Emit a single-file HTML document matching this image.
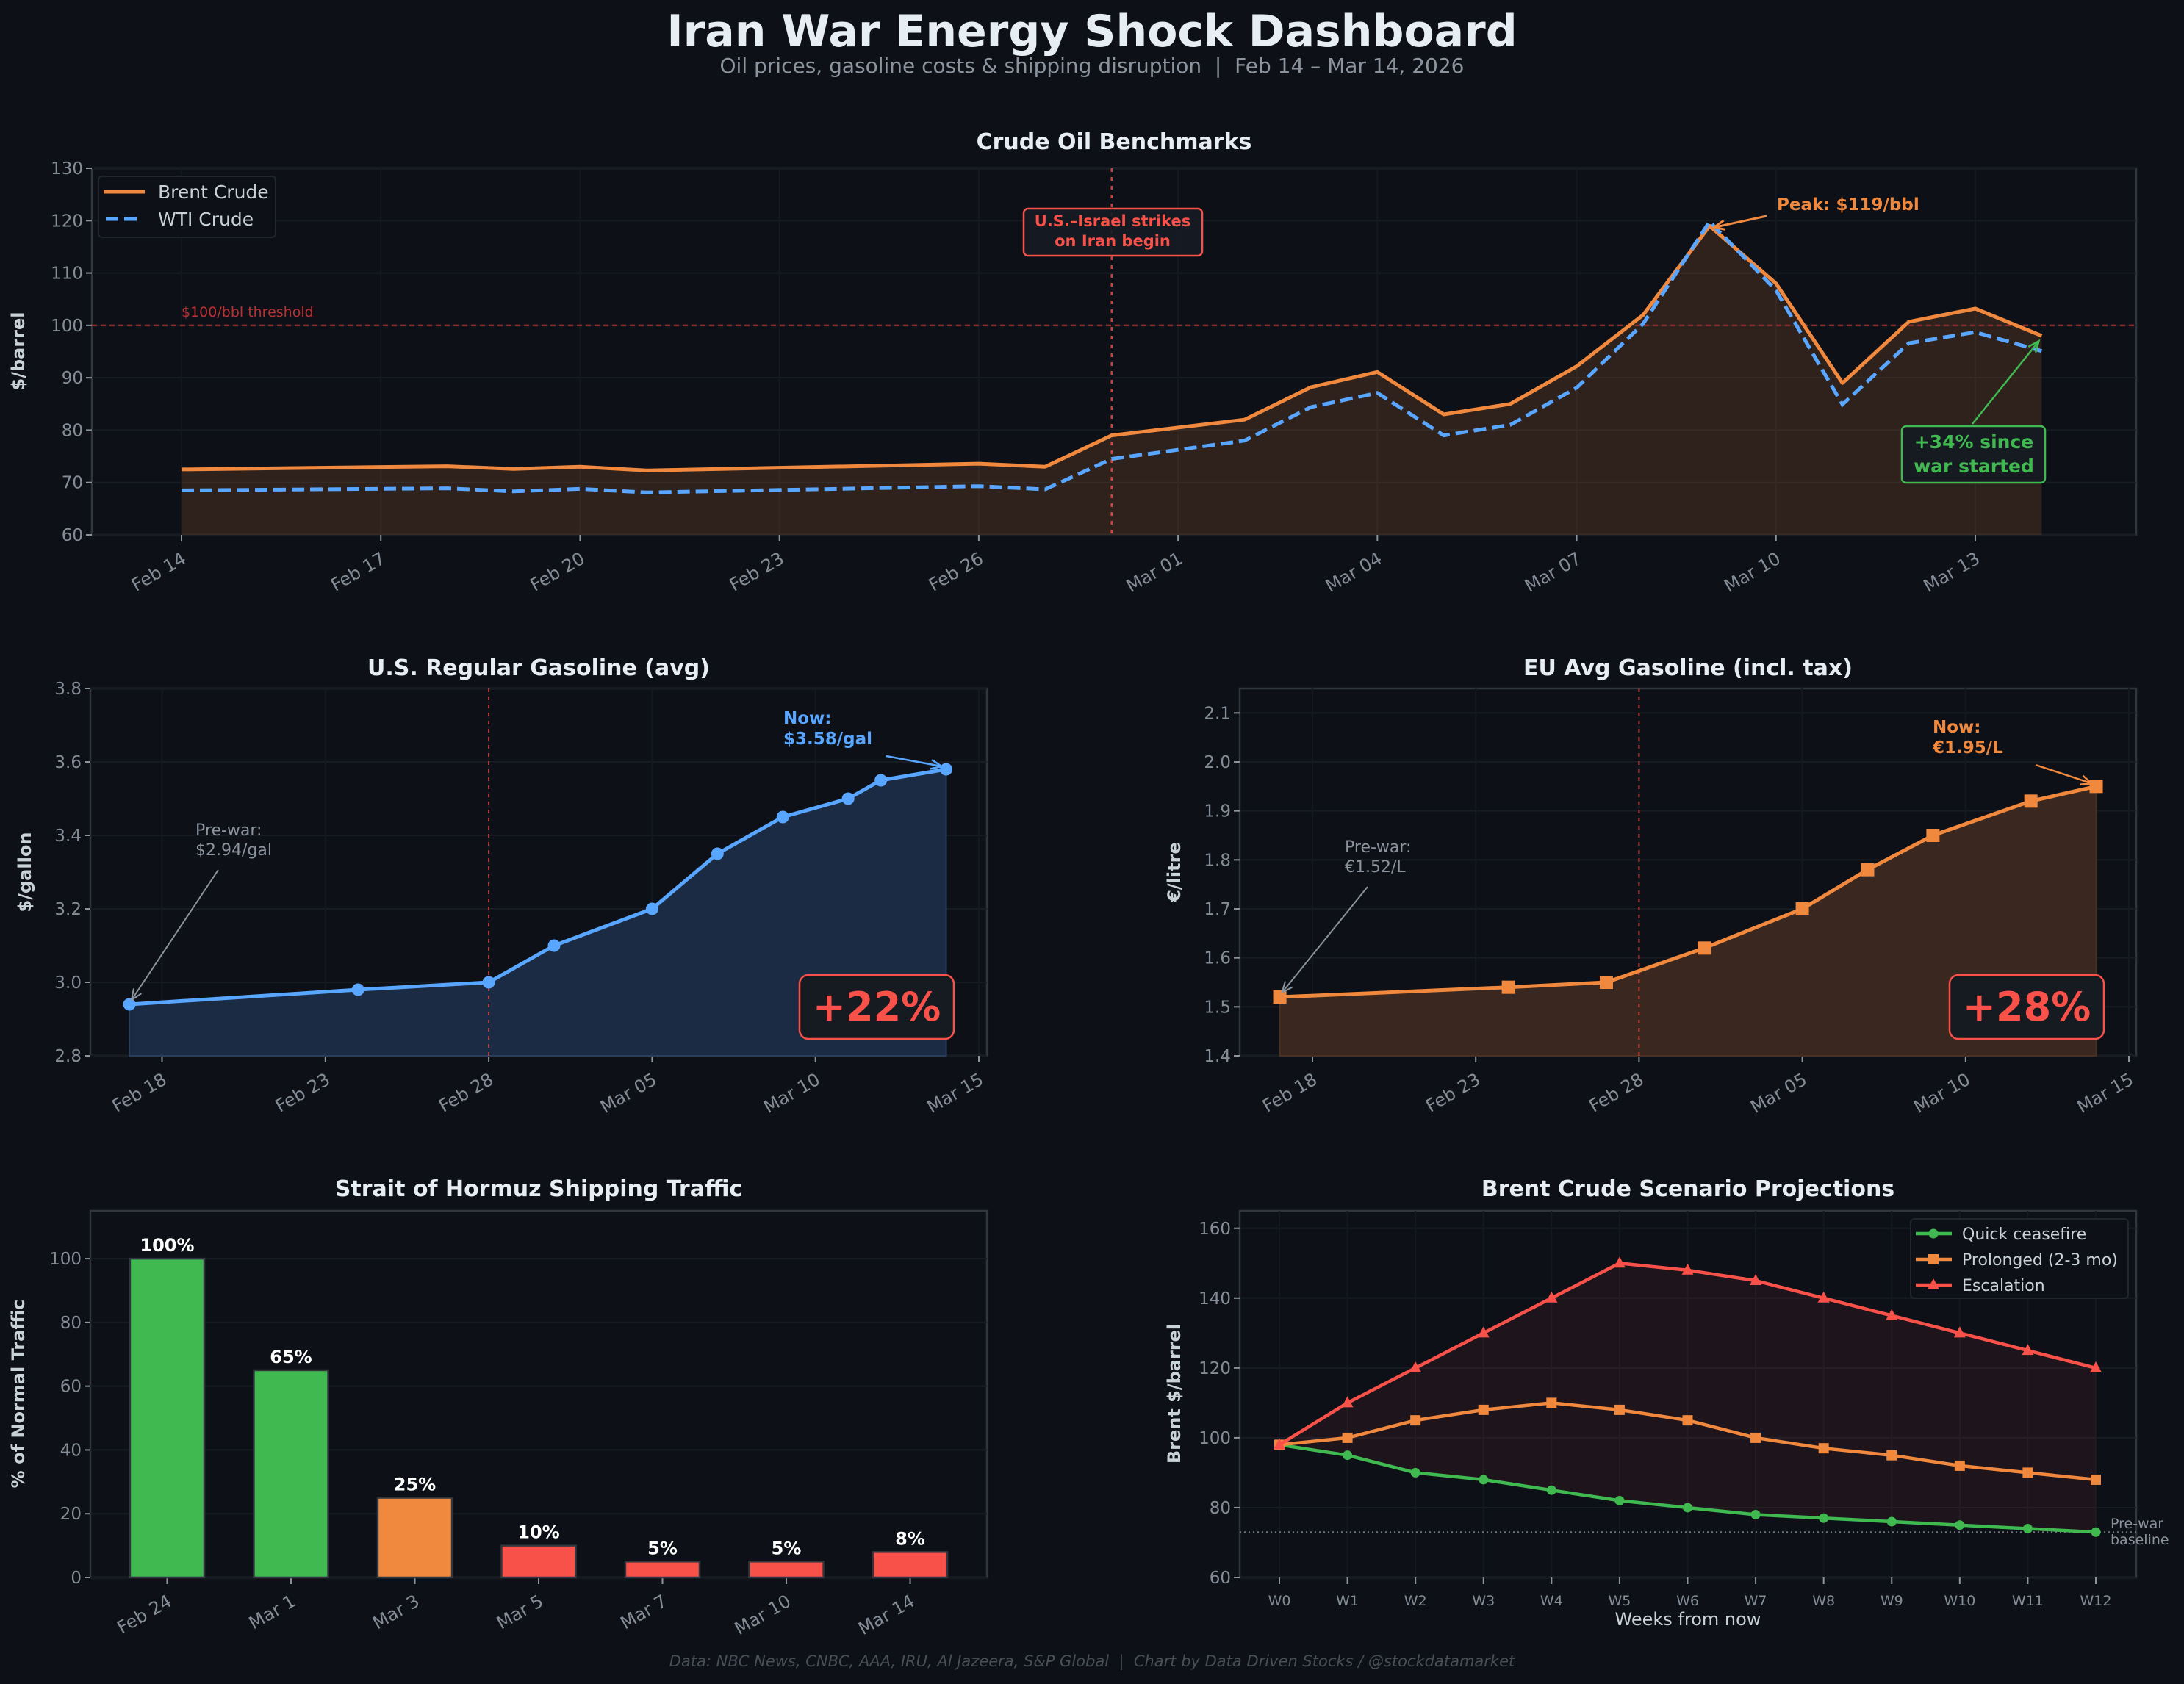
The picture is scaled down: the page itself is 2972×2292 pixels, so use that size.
<!DOCTYPE html>
<html><head><meta charset="utf-8"><title>Iran War Energy Shock Dashboard</title>
<style>
html,body{margin:0;padding:0;background:#0d1117;}
svg{display:block;font-family:"DejaVu Sans","Liberation Sans",sans-serif;}
</style></head>
<body>
<svg id="dash" xmlns="http://www.w3.org/2000/svg" width="2972" height="2292" viewBox="0 0 2972 2292">
<rect width="2972" height="2292" fill="#0d1117"/>
<text x="1486" y="63" text-anchor="middle" font-size="60" font-weight="bold" fill="#e6edf3">Iran War Energy Shock Dashboard</text>
<text x="1486" y="99" text-anchor="middle" font-size="28" fill="#8b949e">Oil prices, gasoline costs &amp; shipping disruption&#160;&#160;|&#160;&#160;Feb 14 – Mar 14, 2026</text>
<text x="1486" y="2268" text-anchor="middle" font-size="21" font-style="italic" fill="#484f58">Data: NBC News, CNBC, AAA, IRU, Al Jazeera, S&amp;P Global&#160;&#160;|&#160;&#160;Chart by Data Driven Stocks / @stockdatamarket</text>
<g id="layer"></g>
</svg>
<script>
// ---------- DATA ----------
const brentDays = [0,4,5,6,7,12,13,14,16,17,18,19,20,21,22,23,24,25,26,27,28];
const brentVals = [72.5,73.1,72.6,73.0,72.3,73.6,73.0,79,82,88.2,91.1,83,85,92.2,102,119,108,89,100.7,103.2,98];
const wtiVals   = [68.5,68.9,68.3,68.8,68.1,69.3,68.7,74.5,78,84.4,87.1,79,81,88.1,100.3,119.8,106.7,84.9,96.6,98.7,95.1];
const topTickDays = [0,3,6,9,12,15,18,21,24,27];
const topTickLabels = ["Feb 14","Feb 17","Feb 20","Feb 23","Feb 26","Mar 01","Mar 04","Mar 07","Mar 10","Mar 13"];
const topYTicks = [60,70,80,90,100,110,120,130];

const usDays = [3,10,14,16,19,21,23,25,26,28];
const usVals = [2.94,2.98,3.00,3.10,3.20,3.35,3.45,3.50,3.55,3.58];
const gasTickDays = [4,9,14,19,24,29];
const gasTickLabels = ["Feb 18","Feb 23","Feb 28","Mar 05","Mar 10","Mar 15"];
const usYTicks = [2.8,3.0,3.2,3.4,3.6,3.8];

const euDays = [3,10,13,16,19,21,23,26,28];
const euVals = [1.52,1.54,1.55,1.62,1.70,1.78,1.85,1.92,1.95];
const euYTicks = [1.4,1.5,1.6,1.7,1.8,1.9,2.0,2.1];

const barCats = ["Feb 24","Mar 1","Mar 3","Mar 5","Mar 7","Mar 10","Mar 14"];
const barVals = [100,65,25,10,5,5,8];
const barColors = ["#3fb950","#3fb950","#f0883e","#f85149","#f85149","#f85149","#f85149"];
const barYTicks = [0,20,40,60,80,100];

const weeks = ["W0","W1","W2","W3","W4","W5","W6","W7","W8","W9","W10","W11","W12"];
const quickVals = [98,95,90,88,85,82,80,78,77,76,75,74,73];
const prolongedVals = [98,100,105,108,110,108,105,100,97,95,92,90,88];
const escalationVals = [98,110,120,130,140,150,148,145,140,135,130,125,120];
const scenYTicks = [60,80,100,120,140,160];
const prewarBaseline = 73;

// ---------- HELPERS ----------
const NS="http://www.w3.org/2000/svg";
const L=document.getElementById('layer');
function mk(tag,attrs,parent){const e=document.createElementNS(NS,tag);for(const k in attrs)e.setAttribute(k,attrs[k]);(parent||L).appendChild(e);return e;}
function txt(s,attrs,parent){const e=mk('text',attrs,parent);e.textContent=s;return e;}
function lin(a,b,c0,c1){return v=>c0+(v-a)*(c1-c0)/(b-a);}
function pts(xs,ys,fx,fy){return xs.map((x,i)=>fx(x).toFixed(1)+','+fy(ys[i]).toFixed(1)).join(' ');}

function frame(x0,y0,x1,y1,name){
  const r=mk('rect',{x:x0,y:y0,width:x1-x0,height:y1-y0,fill:'#0d1017',stroke:'#30363d','stroke-width':2.5});
  
  
}
function yAxis(ticks,fy,x0,x1,fmt,name){
  const g=mk('g',{});
  
  
  ticks.forEach(t=>{
    const y=fy(t);
    mk('line',{x1:x0,x2:x1,y1:y,y2:y,stroke:'#171c23','stroke-width':2},g);
    mk('line',{x1:x0-8,x2:x0,y1:y,y2:y,stroke:'#8b949e','stroke-width':2},g);
    const tl=txt(fmt(t),{x:x0-12,y:y+8,'text-anchor':'end','font-size':23,fill:'#848d97'},g);
    
    
  });
}
function xAxis(vals,labels,fx,y0,y1,name,rot,grid){
  const g=mk('g',{});
  
  
  vals.forEach((v,i)=>{
    const x=fx(v);
    if(grid) mk('line',{x1:x,x2:x,y1:y0,y2:y1,stroke:'#141920','stroke-width':2},g);
    mk('line',{x1:x,x2:x,y1:y1,y2:y1+9,stroke:'#8b949e','stroke-width':2},g);
    let tl;
    if(rot){tl=txt(labels[i],{x:x+8,y:y1+37,'text-anchor':'end','font-size':24,fill:'#848d97',transform:'rotate(-30 '+(x+8)+' '+(y1+37)+')'},g);}
    else{tl=txt(labels[i],{x:x,y:y1+38,'text-anchor':'middle','font-size':19,fill:'#848d97'},g);}
    
    
  });
}
function title(s,x,y,name){const t=txt(s,{x:x,y:y,'text-anchor':'middle','font-size':30,'font-weight':'bold',fill:'#e6edf3'});}
function ylabel(s,x,y,name){const t=txt(s,{x:x,y:y,'text-anchor':'middle','font-size':24,'font-weight':'bold',fill:'#c9d1d9',transform:'rotate(-90 '+x+' '+y+')'});}
function arrow(x1,y1,x2,y2,color,w){
  const g=mk('g',{});
  mk('line',{x1:x1,y1:y1,x2:x2,y2:y2,stroke:color,'stroke-width':w},g);
  const a=Math.atan2(y2-y1,x2-x1),s=16;
  const p=[[x2-s*Math.cos(a-0.4),y2-s*Math.sin(a-0.4)],[x2,y2],[x2-s*Math.cos(a+0.4),y2-s*Math.sin(a+0.4)]];
  mk('polyline',{points:p.map(q=>q.join(',')).join(' '),fill:'none',stroke:color,'stroke-width':w},g);
  return g;
}

// ---------- PANEL 1: crude oil ----------
(function(){
  const X0=125,X1=2907,Y0=229,Y1=728;
  const fx=lin(0,27,247,2688), fy=lin(60,130,Y1,Y0);
  frame(X0,Y0,X1,Y1,'crude-plot-area');
  yAxis(topYTicks,fy,X0,X1,v=>v,'crude-y-axis');
  xAxis(topTickDays,topTickLabels,fx,Y0,Y1,'crude-x-axis',true,true);
  title('Crude Oil Benchmarks',1516,203,'crude-chart-title');
  ylabel('$/barrel',33,478,'crude-y-axis-title');
  const area=mk('polygon',{points:fx(brentDays[0])+','+fy(60)+' '+pts(brentDays,brentVals,fx,fy)+' '+fx(brentDays[brentDays.length-1])+','+fy(60),fill:'#f0883e','fill-opacity':0.15});
  
  
  const th=mk('line',{x1:X0,x2:X1,y1:fy(100),y2:fy(100),stroke:'#8b2c2c','stroke-width':2.5,'stroke-dasharray':'7,5'});
  
  
  const tt=txt('$100/bbl threshold',{x:fx(0),y:fy(100)-12,'font-size':19,fill:'#b83232'});
  
  
  const vl=mk('line',{x1:fx(14),x2:fx(14),y1:Y0,y2:Y1,stroke:'#f85149','stroke-width':2.5,'stroke-dasharray':'5,7','stroke-opacity':0.8});
  
  
  const b=mk('polyline',{points:pts(brentDays,brentVals,fx,fy),fill:'none',stroke:'#f0883e','stroke-width':5,'stroke-linejoin':'round'});
  
  
  const w=mk('polyline',{points:pts(brentDays,wtiVals,fx,fy),fill:'none',stroke:'#58a6ff','stroke-width':5,'stroke-dasharray':'17,8'});
  
  
  const lg=mk('g',{});
  
  
  mk('rect',{x:134,y:240,width:241,height:83,rx:5,fill:'#0d1117',stroke:'#21262d','stroke-width':2},lg);
  mk('line',{x1:141,x2:197,y1:261,y2:261,stroke:'#f0883e','stroke-width':5},lg);
  txt('Brent Crude',{x:215,y:270,'font-size':25,fill:'#c9d1d9'},lg);
  mk('line',{x1:144,x2:190,y1:298,y2:298,stroke:'#58a6ff','stroke-width':5,'stroke-dasharray':'17,8'},lg);
  txt('WTI Crude',{x:215,y:307,'font-size':25,fill:'#c9d1d9'},lg);
  const sb=mk('g',{});
  
  
  mk('rect',{x:1393,y:284,width:243,height:64,rx:6,fill:'#161b22','fill-opacity':0.9,stroke:'#f85149','stroke-width':2.5},sb);
  txt('U.S.–Israel strikes',{x:1514,y:308,'text-anchor':'middle','font-size':21,'font-weight':'bold',fill:'#f85149'},sb);
  txt('on Iran begin',{x:1514,y:335,'text-anchor':'middle','font-size':21,'font-weight':'bold',fill:'#f85149'},sb);
  const pk=txt('Peak: $119/bbl',{x:2418,y:286,'font-size':23,'font-weight':'bold',fill:'#f0883e'});
  
  
  const pa=arrow(2404,294,fx(23)+6,fy(119)+2,'#f0883e',3);
  
  
  const ga=arrow(2684,577,fx(28)-4,fy(97),'#3fb950',2.5);
  
  
  const gb=mk('g',{});
  
  
  mk('rect',{x:2588,y:580,width:195,height:77,rx:6,fill:'#161b22',stroke:'#3fb950','stroke-width':2.5},gb);
  txt('+34% since',{x:2686,y:610,'text-anchor':'middle','font-size':25,'font-weight':'bold',fill:'#3fb950'},gb);
  txt('war started',{x:2686,y:643,'text-anchor':'middle','font-size':25,'font-weight':'bold',fill:'#3fb950'},gb);
})();

// ---------- PANELS 2/3: gasoline ----------
function gasPanel(o){
  const fy=lin(o.ymin,o.ymax,1437,937);
  const fx=lin(4,29,o.t0,o.t1);
  frame(o.X0,937,o.X1,1437,o.id+'-plot-area');
  yAxis(o.yt,fy,o.X0,o.X1,v=>v.toFixed(1),o.id+'-y-axis');
  xAxis(gasTickDays,gasTickLabels,fx,937,1437,o.id+'-x-axis',true,true);
  title(o.title,(o.X0+o.X1)/2,919,o.id+'-chart-title');
  ylabel(o.ylab,o.ylx,1187,o.id+'-y-axis-title');
  const n=o.days.length;
  const area=mk('polygon',{points:fx(o.days[0])+','+fy(o.ymin)+' '+pts(o.days,o.vals,fx,fy)+' '+fx(o.days[n-1])+','+fy(o.ymin),fill:o.fill,stroke:o.fillStroke,'stroke-width':2});
  
  
  const vl=mk('line',{x1:fx(14),x2:fx(14),y1:937,y2:1437,stroke:'#f85149','stroke-width':2,'stroke-dasharray':'5,6','stroke-opacity':0.7});
  
  
  const ln=mk('polyline',{points:pts(o.days,o.vals,fx,fy),fill:'none',stroke:o.color,'stroke-width':5,'stroke-linejoin':'round'});
  
  
  o.days.forEach((d,i)=>{
    let m;
    if(o.square){m=mk('rect',{x:fx(d)-9,y:fy(o.vals[i])-9,width:18,height:18,fill:o.color});}
    else{m=mk('circle',{cx:fx(d),cy:fy(o.vals[i]),r:8.5,fill:o.color});}
    
    
  });
  const pw=mk('g',{});
  
  
  txt('Pre-war:',{x:o.pwx,y:o.pwy,'font-size':22,fill:'#8b949e'},pw);
  txt(o.pwText,{x:o.pwx,y:o.pwy+27,'font-size':22,fill:'#8b949e'},pw);
  arrow(o.pwx+31,o.pwy+47,fx(o.days[0])+3,fy(o.vals[0])-6,'#8b949e',2);
  const nw=mk('g',{});
  
  
  txt('Now:',{x:o.nwx,y:o.nwy,'font-size':23,'font-weight':'bold',fill:o.color},nw);
  txt(o.nwText,{x:o.nwx,y:o.nwy+28,'font-size':23,'font-weight':'bold',fill:o.color},nw);
  arrow(o.nwx+140,o.nwy+44,fx(o.days[n-1])-6,fy(o.vals[n-1])-4,o.color,2.5);
  const bx=mk('g',{});
  
  
  mk('rect',{x:o.bx,y:1327,width:210,height:87,rx:12,fill:'#161b22',stroke:'#f85149','stroke-width':2.5},bx);
  txt(o.pct,{x:o.bx+105,y:1389,'text-anchor':'middle','font-size':54,'font-weight':'bold',fill:'#f85149'},bx);
}
gasPanel({id:'us-gas',X0:123,X1:1343,t0:220.5,t1:1332,ymin:2.8,ymax:3.8,yt:usYTicks,days:usDays,vals:usVals,color:'#58a6ff',fill:'#1c2b44',fillStroke:'#2a3d5c',square:false,title:'U.S. Regular Gasoline (avg)',ylab:'$/gallon',ylx:42,pwx:266,pwy:1137,pwText:'$2.94/gal',nwx:1066,nwy:985,nwText:'$3.58/gal',bx:1088,pct:'+22%'});
gasPanel({id:'eu-gas',X0:1687,X1:2907,t0:1786,t1:2897,ymin:1.4,ymax:2.15,yt:euYTicks,days:euDays,vals:euVals,color:'#f0883e',fill:'#3a271f',fillStroke:'#4a3020',square:true,title:'EU Avg Gasoline (incl. tax)',ylab:'€/litre',ylx:1606,pwx:1830,pwy:1160,pwText:'€1.52/L',nwx:2630,nwy:997,nwText:'€1.95/L',bx:2653,pct:'+28%'});

// ---------- PANEL 4: Hormuz bars ----------
(function(){
  const X0=123,X1=1343,Y0=1648,Y1=2147;
  const fy=lin(0,115,Y1,Y0), fx=lin(-0.62,6.62,X0,X1);
  frame(X0,Y0,X1,Y1,'hormuz-plot-area');
  yAxis(barYTicks,fy,X0,X1,v=>v,'hormuz-y-axis');
  xAxis(barCats.map((c,i)=>i),barCats,fx,Y0,Y1,'hormuz-x-axis',true,false);
  title('Strait of Hormuz Shipping Traffic',733,1628,'hormuz-chart-title');
  ylabel('% of Normal Traffic',33,1897,'hormuz-y-axis-title');
  barVals.forEach((v,i)=>{
    const bw=(fx(0.3)-fx(-0.3));
    const r=mk('rect',{x:fx(i)-bw/2,y:fy(v),width:bw,height:fy(0)-fy(v),fill:barColors[i],stroke:'#30363d','stroke-width':2.5});
    
    
    const t=txt(v+'%',{x:fx(i),y:fy(v)-10,'text-anchor':'middle','font-size':24,'font-weight':'bold',fill:'#ffffff'});
    
    
  });
})();

// ---------- PANEL 5: scenarios ----------
(function(){
  const X0=1687,X1=2907,Y0=1648,Y1=2147;
  const fy=lin(60,165,Y1,Y0), fx=lin(0,12,1741,2852);
  frame(X0,Y0,X1,Y1,'scenario-plot-area');
  yAxis(scenYTicks,fy,X0,X1,v=>v,'scenario-y-axis');
  const idx=weeks.map((w,i)=>i);
  xAxis(idx,weeks,fx,Y0,Y1,'scenario-x-axis',false,true);
  title('Brent Crude Scenario Projections',2297,1628,'scenario-chart-title');
  ylabel('Brent $/barrel',1606,1897,'scenario-y-axis-title');
  const xl=txt('Weeks from now',{x:2297,y:2212,'text-anchor':'middle','font-size':24,fill:'#c9d1d9'});
  
  
  const band=mk('polygon',{points:pts(idx,escalationVals,fx,fy)+' '+pts(idx.slice().reverse(),quickVals.slice().reverse(),fx,fy),fill:'#f85149','fill-opacity':0.08});
  
  
  const bl=mk('line',{x1:X0,x2:X1,y1:fy(prewarBaseline),y2:fy(prewarBaseline),stroke:'#6e7681','stroke-width':2,'stroke-dasharray':'2,4'});
  
  
  const bt=mk('g',{});
  
  
  txt('Pre-war',{x:2872,y:2080,'font-size':19,fill:'#8b949e'},bt);
  txt('baseline',{x:2872,y:2102,'font-size':19,fill:'#8b949e'},bt);
  const series=[[quickVals,'#3fb950','circle','quick-ceasefire'],[prolongedVals,'#f0883e','square','prolonged'],[escalationVals,'#f85149','tri','escalation']];
  series.forEach(s=>{
    const ln=mk('polyline',{points:pts(idx,s[0],fx,fy),fill:'none',stroke:s[1],'stroke-width':4.5,'stroke-linejoin':'round'});
    
    
    s[0].forEach((v,i)=>{
      const x=fx(i),y=fy(v);let m;
      if(s[2]=='circle') m=mk('circle',{cx:x,cy:y,r:6.5,fill:s[1]});
      else if(s[2]=='square') m=mk('rect',{x:x-7,y:y-7,width:14,height:14,fill:s[1]});
      else m=mk('polygon',{points:x+','+(y-9)+' '+(x-8)+','+(y+6)+' '+(x+8)+','+(y+6),fill:s[1]});
      
      
    });
  });
  const lg=mk('g',{});
  
  
  mk('rect',{x:2600,y:1659,width:296,height:108,rx:5,fill:'#0d1117',stroke:'#21262d','stroke-width':2},lg);
  const names=['Quick ceasefire','Prolonged (2-3 mo)','Escalation'];
  series.forEach((s,i)=>{
    const y=1679+i*35;
    mk('line',{x1:2607,x2:2656,y1:y,y2:y,stroke:s[1],'stroke-width':4.5},lg);
    if(s[2]=='circle') mk('circle',{cx:2631,cy:y,r:6.5,fill:s[1]},lg);
    else if(s[2]=='square') mk('rect',{x:2624,y:y-7,width:14,height:14,fill:s[1]},lg);
    else mk('polygon',{points:'2631,'+(y-9)+' 2623,'+(y+6)+' 2639,'+(y+6),fill:s[1]},lg);
    txt(names[i],{x:2670,y:y+8,'font-size':22,fill:'#c9d1d9'},lg);
  });
})();
</script>
</body></html>
